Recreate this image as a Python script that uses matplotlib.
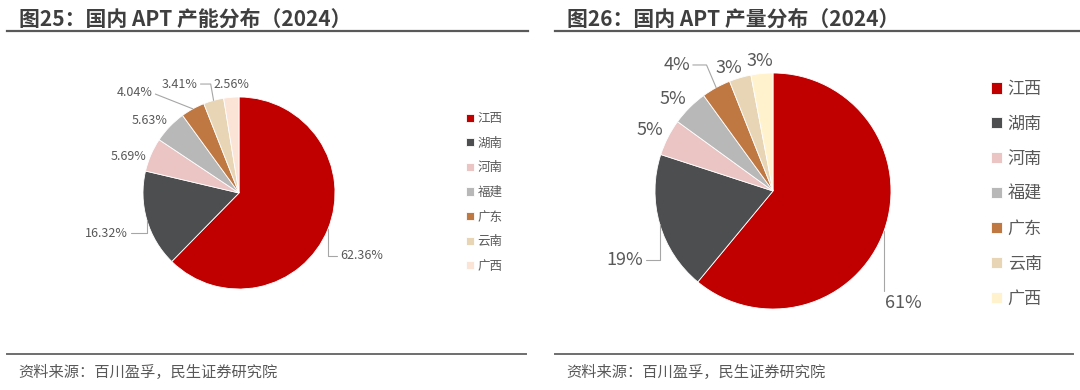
import numpy as np
import matplotlib
matplotlib.use("Agg")
import matplotlib.pyplot as plt
from matplotlib.lines import Line2D

plt.rcParams['font.family'] = ['Noto Sans CJK SC', 'DejaVu Sans']

provinces = ['江西', '湖南', '河南', '福建', '广东', '云南', '广西']
capacity = [62.36, 16.32, 5.69, 5.63, 4.04, 3.41, 2.56]
output = [61, 19, 5, 5, 4, 3, 3]
capacity_labels = ['62.36%', '16.32%', '5.69%', '5.63%', '4.04%', '3.41%', '2.56%']
output_labels = ['61%', '19%', '5%', '5%', '4%', '3%', '3%']

colors_left = ['#C00000', '#4D4E50', '#EBC4C4', '#B8B8B8', '#C07843', '#E8D5B5', '#FBE3D6']
colors_right = ['#C00000', '#4D4E50', '#EBC4C4', '#B8B8B8', '#C07843', '#E8D5B5', '#FFF2CC']

TXT = '#595959'
LEAD = '#A6A6A6'

W, H = 1080, 390
fig = plt.figure(figsize=(W / 100, H / 100), dpi=100)


def pie_axes(cx, cy, r):
    ax = fig.add_axes([(cx - r) / W, (H - cy - r) / H, 2 * r / W, 2 * r / H])
    return ax


def draw_pie(ax, values, colors):
    wedges, _ = ax.pie(values, colors=colors, startangle=90, counterclock=False,
                       wedgeprops=dict(edgecolor='white', linewidth=0.6))
    ax.set_xlim(-1, 1)
    ax.set_ylim(-1, 1)
    ax.set_aspect('auto')
    ax.axis('off')
    return wedges


def edge_point(w):
    a = np.deg2rad((w.theta1 + w.theta2) / 2)
    return np.cos(a), np.sin(a)


def put_label(ax, w, text, pos, ha, size, leader=None):
    if leader is None:
        ax.text(pos[0], pos[1], text, ha=ha, va='center', fontsize=size,
                color=TXT, clip_on=False)
        return
    relx = 0 if ha == 'left' else (1 if ha == 'right' else 0.5)
    ax.annotate(text, xy=edge_point(w), xytext=pos, ha=ha, va='center',
                fontsize=size, color=TXT, annotation_clip=False,
                arrowprops=dict(arrowstyle='-', color=LEAD, lw=0.8,
                                relpos=(relx, 0.5), connectionstyle=leader,
                                shrinkA=0, shrinkB=0))


# left pie: capacity
axl = pie_axes(239, 193, 96)
wl = draw_pie(axl, capacity, colors_left)
left_pos = [((1.05, -0.656), 'left', 'angle,angleA=0,angleB=90,rad=0'),
            ((-1.156, -0.417), 'right', 'angle,angleA=0,angleB=90,rad=0'),
            ((-1.156, 0.375), 'center', None),
            ((-0.927, 0.760), 'center', None),
            ((-0.90, 1.042), 'right', 'arc3,rad=0'),
            ((-0.43, 1.135), 'right', 'angle,angleA=0,angleB=100,rad=0'),
            ((-0.083, 1.135), 'center', None)]
for w, t, (p, ha, ld) in zip(wl, capacity_labels, left_pos):
    put_label(axl, w, t, p, ha, 9, ld)

# right pie: output
axr = pie_axes(773, 191, 118)
wr = draw_pie(axr, output, colors_right)
right_pos = [((0.949, -0.949), 'left', 'angle,angleA=0,angleB=90,rad=0'),
             ((-1.102, -0.585), 'right', 'angle,angleA=0,angleB=90,rad=0'),
             ((-1.042, 0.517), 'center', None),
             ((-0.847, 0.780), 'center', None),
             ((-0.703, 1.068), 'right', 'angle,angleA=0,angleB=113,rad=0'),
             ((-0.373, 1.042), 'center', None),
             ((-0.110, 1.102), 'center', None)]
for w, t, (p, ha, ld) in zip(wr, output_labels, right_pos):
    put_label(axr, w, t, p, ha, 13, ld)

# legends
fig.legend(wl, provinces, loc='upper left', bbox_to_anchor=(466 / W, 1 - 112 / H),
           frameon=False, fontsize=9, labelcolor=TXT, handlelength=0.62,
           handleheight=0.62, handletextpad=0.3, labelspacing=0.93,
           borderpad=0, borderaxespad=0)
fig.legend(wr, provinces, loc='upper left', bbox_to_anchor=(991 / W, 1 - 80 / H),
           frameon=False, fontsize=12.3, labelcolor=TXT, handlelength=0.62,
           handleheight=0.62, handletextpad=0.35, labelspacing=0.99,
           borderpad=0, borderaxespad=0)

# titles, rules, source
for x0, x1, tx, title in [(7, 528, 19, '图25：国内 APT 产能分布（2024）'),
                          (555, 1080, 567, '图26：国内 APT 产量分布（2024）')]:
    fig.text(tx / W, 1 - 19.5 / H, title, fontsize=15, fontweight='bold',
             color='#3F3F3F', ha='left', va='center')
    fig.add_artist(Line2D([x0 / W, x1 / W], [1 - 31 / H, 1 - 31 / H],
                          color='#595959', lw=1.6))

for x0, x1, tx in [(7, 526, 18), (555, 1073, 566)]:
    fig.add_artist(Line2D([x0 / W, x1 / W], [1 - 354 / H, 1 - 354 / H],
                          color='#6E6E6E', lw=1.4))
    fig.text(tx / W, 1 - 372 / H, '资料来源：百川盈孚，民生证券研究院', fontsize=11,
             color=TXT, ha='left', va='center')

fig.savefig('out.png', dpi=100)
